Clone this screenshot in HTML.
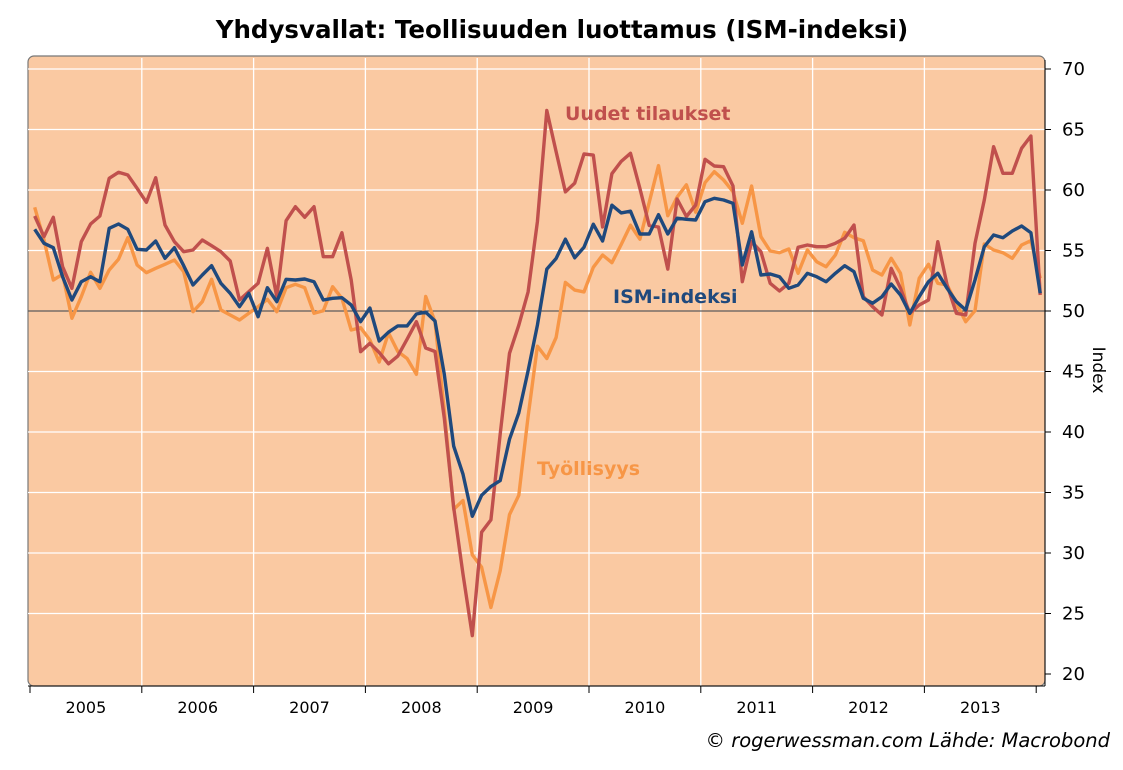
<!DOCTYPE html>
<html><head><meta charset="utf-8"><style>
body{margin:0;background:#fff;width:1123px;height:765px;overflow:hidden}
svg text{font-family:"DejaVu Sans","Liberation Sans",sans-serif}
</style></head><body>
<svg id="s" width="1123" height="765" xmlns="http://www.w3.org/2000/svg">
<text x="562" y="38" text-anchor="middle" font-size="24.5" font-weight="bold" fill="#000">Yhdysvallat: Teollisuuden luottamus (ISM-indeksi)</text>
<rect x="28" y="56" width="1017" height="630" rx="6" ry="6" fill="#FAC9A2" stroke="#777" stroke-width="1.2"/>
<g id="grid"></g>
<line x1="28" y1="311" x2="1045" y2="311" stroke="#333" stroke-width="1"/>
<g id="lines"></g>
<text x="565" y="120" font-size="19" font-weight="bold" fill="#C0504D">Uudet tilaukset</text>
<text x="613" y="303" font-size="19" font-weight="bold" fill="#1F497D">ISM-indeksi</text>
<text x="537" y="475" font-size="19" font-weight="bold" fill="#F79646">Työllisyys</text>
<g id="axes"></g>
<text transform="translate(1093,370) rotate(90)" text-anchor="middle" font-size="17" fill="#000">Index</text>
<text x="1110" y="747" text-anchor="end" font-size="19.5" font-style="italic" fill="#000">© rogerwessman.com Lähde: Macrobond</text>
</svg>
<script>
var ns="http://www.w3.org/2000/svg";
function el(p,t,a){var e=document.createElementNS(ns,t);for(var k in a)e.setAttribute(k,a[k]);p.appendChild(e);return e;}
var g=document.getElementById('grid'),ax=document.getElementById('axes'),ln=document.getElementById('lines');
function Y(v){return 311-(v-50)*12.1;}
for(var v=20;v<=70;v+=5){var y=Y(v);
 if(v>20)el(g,'line',{x1:28,x2:1045,y1:y,y2:y,stroke:'#fff','stroke-width':1.3});
 el(ax,'line',{x1:1045,x2:1051,y1:y,y2:y,stroke:'#000'});
 var t=el(ax,'text',{x:1062,y:y+6,'font-size':18,fill:'#000'});t.textContent=v;}
el(ax,'line',{x1:1045,x2:1045,y1:60,y2:686,stroke:'#000'});
el(ax,'line',{x1:28,x2:1045,y1:686,y2:686,stroke:'#000'});
var yr=111.8;
for(var i=0;i<=9;i++){var x=30+i*yr;
 if(i>0&&i<9)el(g,'line',{x1:x,x2:x,y1:58,y2:686,stroke:'#fff','stroke-width':1.3});
 el(ax,'line',{x1:x,x2:x,y1:686,y2:693,stroke:'#000'});
 if(i<9){var t=el(ax,'text',{x:x+yr/2,y:713,'font-size':16,'text-anchor':'middle',fill:'#000'});t.textContent=2005+i;}}
var blue=[229.3,243.3,247.7,276.7,300,281.7,276.7,281.7,228.3,224,229.3,249.3,250,241,258.3,247.7,265.7,285,275,265.7,283.3,293.3,306.7,293.3,316.7,287.7,301.7,279.3,280,279,281.7,300,298.3,297.7,305,321.7,308,
341.0,332.2,325.9,325.9,314.0,312.2,321.0,374.3,446.2,474.2,516.3,495.3,486.5,480.6,439.2,412.9,370.8,325.2,269.1,258.5,239.2,257.8,247.3,224.2,241.0,205.2,212.9,211.2,234.0,234.0,214.7,234.0,218.2,219.3,220,
201.7,198.3,200,203.3,265,231.7,275,274,276.7,288.3,285,273.3,276.7,281.7,273.3,265.7,271.7,298.3,303.3,296.7,284,295,313.3,296.7,281.7,273.3,288.3,301.7,310,280,246.7,235,237.7,231,226,232.7,293.3];
var red=[216,236.7,217.3,266.7,288.3,241.7,224,216,178.3,172.3,175,188.3,202.3,177.7,225,241.7,251.7,250,240,245.7,251.7,261,300,291.7,283.3,248.3,296.7,220.7,206.7,217.3,206.7,256.7,256.7,232.7,280,351.7,343.3,
352.5,363.8,356.1,339.2,321.7,348.0,351.5,418.1,507.6,574.2,635.6,532.2,519.9,434.0,353.3,325.2,291.9,221.7,110.5,151.6,191.9,183.1,154.0,155.1,227.0,173.7,161.4,153.3,188.4,225.5,227.0,269.1,199.0,216.5,205,
159.3,166,166.7,186,281.7,241.7,251.7,283.3,291,283.3,247.3,245,246.7,246.7,243.3,238.3,225,296.7,306.7,315,268.3,288.3,313.3,305,300,241.7,285,313.3,315,243.3,200,146.7,173.3,173.3,148.3,136,295];
var org=[207.3,240,280,274.3,318.3,296.7,272.3,288.3,270,259.3,237.7,265,272.7,268.3,264.3,260,271.7,311.7,301.7,279.3,310,315,320,313.3,306.7,299.3,311.7,287.7,284.3,287.7,313.3,310.7,286.7,298.3,330,327.7,340,
362.0,332.9,351.5,358.5,374.3,296.4,321.7,411.1,509.3,500.5,554.9,567.2,607.5,570.7,514.6,495.3,416.4,346.2,358.5,337.5,282.4,290.1,291.9,267.3,255.0,262.7,244.5,225.2,239.2,202.4,165.6,215.7,197.1,184.8,212.2,
182.7,171.7,180,191.7,223.3,186,236.7,251,252.7,249,273.3,250,261.7,266.7,255,232.3,237.7,240.7,270,275,258.3,273.3,325,278.3,264.3,283.3,285,303.3,321.7,310.7,244,250,252.7,258.3,245,240.7,278.3];
function pl(a,c){var p=a.map(function(y,i){return (34.7+9.31*i).toFixed(1)+','+y;}).join(' ');
 el(ln,'polyline',{points:p,fill:'none',stroke:c,'stroke-width':3.4,'stroke-linejoin':'round'});}
pl(org,'#F79646');pl(red,'#C0504D');pl(blue,'#1F497D');
</script>
</body></html>
